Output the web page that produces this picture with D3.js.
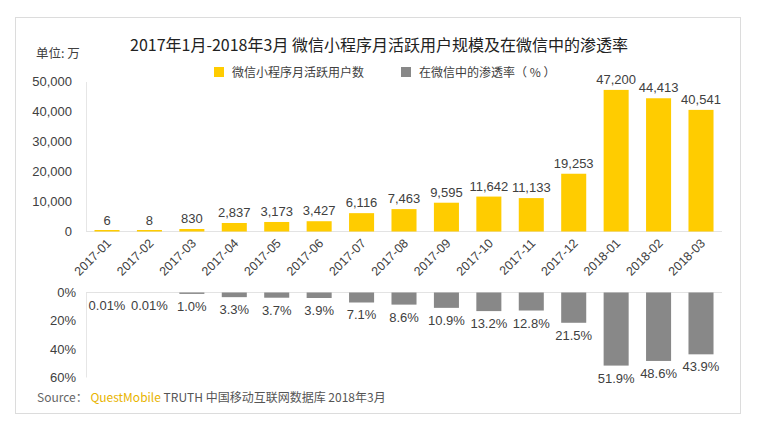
<!DOCTYPE html>
<html lang="zh">
<head>
<meta charset="UTF-8">
<title>微信小程序月活跃用户规模及在微信中的渗透率</title>
<script src="https://d3js.org/d3.v7.min.js"></script>
<style>
  body { margin: 0; background: #fff; font-family: "Noto Sans CJK SC", "Noto Sans", sans-serif; }
  svg text { fill: #404040; }
</style>
</head>
<body>
<svg id="chart" width="763" height="433"></svg>
<script>
const months = ["2017-01","2017-02","2017-03","2017-04","2017-05","2017-06","2017-07","2017-08",
                "2017-09","2017-10","2017-11","2017-12","2018-01","2018-02","2018-03"];
const users = [6, 8, 830, 2837, 3173, 3427, 6116, 7463, 9595, 11642, 11133, 19253, 47200, 44413, 40541];
const rate = [0.01, 0.01, 1.0, 3.3, 3.7, 3.9, 7.1, 8.6, 10.9, 13.2, 12.8, 21.5, 51.9, 48.6, 43.9];
const rateLabels = ["0.01%","0.01%","1.0%","3.3%","3.7%","3.9%","7.1%","8.6%","10.9%","13.2%","12.8%","21.5%","51.9%","48.6%","43.9%"];
const userTicks = [0, 10000, 20000, 30000, 40000, 50000];
const rateTicks = [0, 20, 40, 60];

const yellow = "#ffcc00", gray = "#888888";
const numFont = "Liberation Sans, Arial, sans-serif";
const svg = d3.select("#chart");

// frame
svg.append("rect").attr("x", 15.5).attr("y", 17.5).attr("width", 725).attr("height", 396)
  .attr("fill", "#fff").attr("stroke", "#dcdcdc");

const x = d3.scaleBand().domain(months).range([86, 722]).paddingInner(0.41).paddingOuter(0.2);
const yU = d3.scaleLinear().domain([0, 50000]).range([231.5, 81.5]);
const yR = d3.scaleLinear().domain([0, 60]).range([292.5, 377]);

// title
svg.append("text").attr("x", 379).attr("y", 51).attr("text-anchor", "middle")
  .style("font-size", "16px").style("fill", "#222")
  .text("2017年1月-2018年3月 微信小程序月活跃用户规模及在微信中的渗透率");
svg.append("text").attr("x", 36).attr("y", 58).style("font-size", "12.5px").text("单位: 万");

// legend
const legend = [["微信小程序月活跃用户数", yellow, 214], ["在微信中的渗透率（ % ）", gray, 401]];
legend.forEach(([t, c, lx]) => {
  svg.append("rect").attr("x", lx).attr("y", 67).attr("width", 10).attr("height", 10).attr("fill", c);
  svg.append("text").attr("x", lx + 18).attr("y", 76.5).style("font-size", "12px").text(t);
});

// upper axis
const axU = svg.append("g").attr("transform", "translate(86,0)")
  .call(d3.axisLeft(yU).tickValues(userTicks).tickSize(0).tickPadding(14).tickFormat(d3.format(",")));
axU.select(".domain").attr("stroke", "#e6e6e6");
axU.selectAll("text").style("font-size", "13px").style("font-family", numFont).attr("fill", "#404040");
svg.append("line").attr("x1", 86).attr("x2", 722).attr("y1", yU(0)).attr("y2", yU(0)).attr("stroke", "#e3e3e3");

svg.append("g").selectAll("rect").data(users).join("rect")
  .attr("x", (d, i) => x(months[i])).attr("width", x.bandwidth())
  .attr("y", d => Math.min(yU(d), yU(0) - 1.5)).attr("height", d => Math.max(yU(0) - yU(d), 1.5))
  .attr("fill", yellow);

svg.append("g").selectAll("text").data(users).join("text")
  .attr("x", (d, i) => x(months[i]) + x.bandwidth() / 2).attr("y", d => yU(d) - 6)
  .attr("text-anchor", "middle").style("font-size", "13px").style("font-family", numFont)
  .text(d3.format(","));

// month labels
svg.append("g").selectAll("text").data(months).join("text")
  .attr("transform", d => `translate(${x(d) + x.bandwidth() / 2 + 5},${244}) rotate(-45)`)
  .attr("text-anchor", "end").style("font-size", "12.5px").style("font-family", numFont)
  .text(d => d);

// lower axis
const axR = svg.append("g").attr("transform", "translate(86,0)")
  .call(d3.axisLeft(yR).tickValues(rateTicks).tickSize(0).tickPadding(10).tickFormat(d => d + "%"));
axR.select(".domain").attr("stroke", "#e6e6e6");
axR.selectAll("text").style("font-size", "13px").style("font-family", numFont).attr("fill", "#404040");
svg.append("line").attr("x1", 86).attr("x2", 722).attr("y1", yR(0)).attr("y2", yR(0)).attr("stroke", "#e3e3e3");

svg.append("g").selectAll("rect").data(rate).join("rect")
  .attr("x", (d, i) => x(months[i])).attr("width", x.bandwidth())
  .attr("y", yR(0)).attr("height", d => yR(d) - yR(0))
  .attr("fill", gray);

svg.append("g").selectAll("text").data(rate).join("text")
  .attr("x", (d, i) => x(months[i]) + x.bandwidth() / 2).attr("y", d => yR(d) + 17)
  .attr("text-anchor", "middle").style("font-size", "13px").style("font-family", numFont)
  .text((d, i) => rateLabels[i]);

// source
const src = svg.append("text").attr("x", 37).attr("y", 402).style("font-size", "12px");
src.append("tspan").style("fill", "#666").text("Source： ");
src.append("tspan").style("fill", "#e8b400").text("QuestMobile");
src.append("tspan").style("fill", "#555").text(" TRUTH 中国移动互联网数据库 2018年3月");
</script>
</body>
</html>
